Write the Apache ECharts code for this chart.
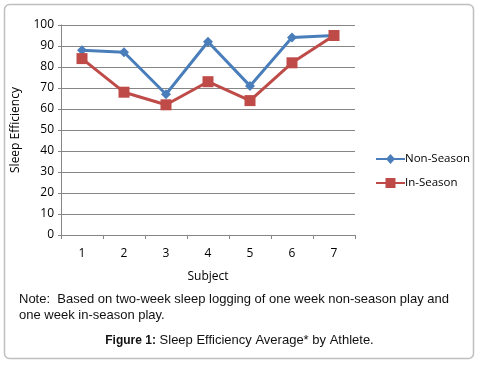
<!DOCTYPE html>
<html>
<head>
<meta charset="utf-8">
<script src="https://cdn.jsdelivr.net/npm/echarts@6/dist/echarts.min.js"></script>
<style>
  html, body { margin: 0; padding: 0; background: #fff; }
  #chart { width: 479px; height: 366px; }
</style>
</head>
<body>
<div id="chart"></div>
<script>
const subjects = ['1', '2', '3', '4', '5', '6', '7']
const nonSeason = [88, 87, 67, 92, 71, 94, 95]
const inSeason = [84, 68, 62, 73, 64, 82, 95]

let myChart = echarts.init(document.getElementById('chart'))
const axisFont = { fontFamily: 'Open Sans', fontSize: 12, color: '#000' }

myChart.setOption({
  animation: false,
  grid: { left: 61, right: 124, top: 25, bottom: 131 },
  legend: {
    orient: 'vertical',
    left: 371,
    top: 148,
    itemWidth: 29,
    itemHeight: 12,
    itemGap: 12,
    textStyle: { fontFamily: 'Open Sans', fontSize: 11.5, color: '#000', padding: [0, 0, 0, -5] },
    data: [
      { name: 'Non-Season', icon: 'path://M0,5 L29,5 L29,7 L0,7 Z M10,6 L14.5,1 L19,6 L14.5,11 Z' },
      { name: 'In-Season', icon: 'path://M0,5 L29,5 L29,7 L0,7 Z M9.5,1 L19.5,1 L19.5,11 L9.5,11 Z' }
    ]
  },
  xAxis: {
    type: 'category',
    data: subjects,
    name: 'Subject',
    nameLocation: 'middle',
    nameGap: 36,
    nameTextStyle: axisFont,
    axisLine: { lineStyle: { color: '#868686' } },
    axisTick: { show: true, length: 4, lineStyle: { color: '#868686' } },
    axisLabel: Object.assign({ margin: 13 }, axisFont)
  },
  yAxis: {
    type: 'value',
    min: 0,
    max: 100,
    interval: 10,
    name: 'Sleep Efficiency',
    nameLocation: 'middle',
    nameGap: 39,
    nameTextStyle: axisFont,
    axisLine: { show: true, lineStyle: { color: '#868686' } },
    axisTick: { show: true, length: 3, lineStyle: { color: '#868686' } },
    axisLabel: Object.assign({ margin: 7 }, axisFont),
    splitLine: { lineStyle: { color: '#868686' } }
  },
  series: [
    {
      name: 'Non-Season',
      type: 'line',
      data: nonSeason,
      symbol: 'diamond',
      symbolSize: 10,
      itemStyle: { color: '#4a7ebb' },
      lineStyle: { width: 3, color: '#4a7ebb' }
    },
    {
      name: 'In-Season',
      type: 'line',
      data: inSeason,
      symbol: 'rect',
      symbolSize: 11,
      itemStyle: { color: '#be4b48' },
      lineStyle: { width: 3, color: '#be4b48' }
    }
  ],
  graphic: [
    {
      type: 'rect',
      shape: { x: 4.5, y: 4.5, width: 469, height: 354, r: 5 },
      style: { fill: 'none', stroke: '#bfbfbf', lineWidth: 1.5 },
      silent: true,
      z: -1
    },
    {
      type: 'text',
      left: 19,
      top: 291,
      style: {
        text: 'Note:  Based on two-week sleep logging of one week non-season play and\none week in-season play.',
        font: '13px "Liberation Sans"',
        lineHeight: 16,
        fill: '#111'
      }
    },
    {
      type: 'text',
      left: 'center',
      top: 334,
      style: {
        text: '{b|Figure 1:} Sleep Efficiency Average* by Athlete.',
        font: '13px "Liberation Sans"',
        fill: '#111',
        rich: { b: { fontWeight: 'bold', font: 'bold 13px "Liberation Sans"', fill: '#111' } }
      }
    }
  ]
})
</script>
</body>
</html>
